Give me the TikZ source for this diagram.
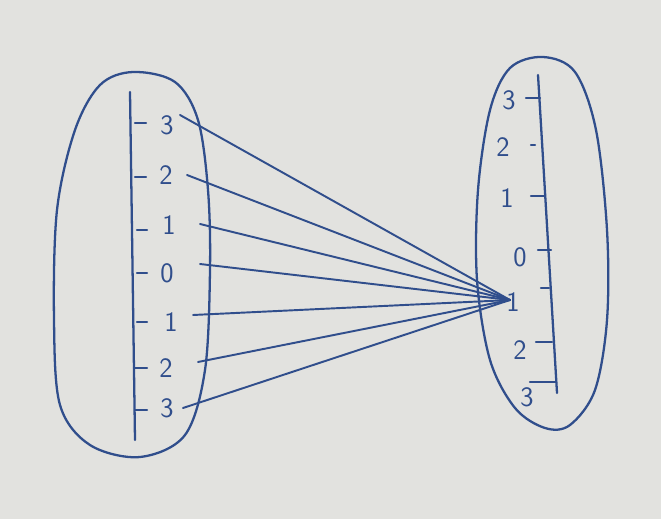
\documentclass[tikz,border=0pt]{standalone}
\usepackage{tikz}
\usetikzlibrary{arrows.meta}
\definecolor{paper}{RGB}{226,226,223}
\definecolor{ink}{RGB}{48,78,140}
\tikzset{
  pen/.style={ink, line width=1.3pt, line cap=round, line join=round},
  num/.style={ink, inner sep=1pt, font=\fontsize{16}{16}\selectfont\sffamily},
}

\begin{document}
\begin{tikzpicture}[x=0.02cm, y=-0.02cm, >=Stealth]

% Sfondo
\fill[paper] (0,0) rectangle (661,519);
\useasboundingbox (0,0) rectangle (661,519);

% Insieme di partenza
\draw[pen] plot[smooth cycle, tension=0.55] coordinates {(133,72) (175,82) (198,120) (208,190)
  (210,270) (205,370) (185,435) (140,457) (90,445) (60,405) (54,320) (57,210) (75,130) (100,85)};
\draw[pen] (130,92) -- (135,440);

% Tacche e numeri (sinistra)
\draw[pen] (135,123) -- (146,123);
\draw[pen] (135,177) -- (146,177);
\draw[pen] (137,230) -- (147,230);
\draw[pen] (137,273) -- (147,273);
\draw[pen] (137,322) -- (147,322);
\draw[pen] (134,368) -- (147,368);
\draw[pen] (135,410) -- (147,410);
\node[num] (l1) at (167,125) {3};
\node[num] (l2) at (166,175) {2};
\node[num] (l3) at (169,225) {1};
\node[num] (l4) at (167,273) {0};
\node[num] (l5) at (171,322) {1};
\node[num] (l6) at (166,368) {2};
\node[num] (l7) at (167,408) {3};

% Insieme di arrivo
\draw[pen] plot[smooth cycle, tension=0.55] coordinates {(543,57) (575,72) (596,130) (607,230)
  (607,320) (595,390) (570,425) (545,428) (515,408) (490,360) (477,280) (478,190) (490,110) (510,68)};
\draw[pen] (538,75) -- (557,393);

% Tacche e numeri (destra)
\draw[pen] (526,98) -- (540,98);
\draw[pen] (531,145) -- (535,145);
\draw[pen] (531,196) -- (544,196);
\draw[pen] (538,250) -- (551,250);
\draw[pen] (541,288) -- (549,288);
\draw[pen] (536,342) -- (552,342);
\draw[pen] (530,382) -- (556,382);
\node[num] (r1) at (509,100) {3};
\node[num] (r2) at (503,147) {2};
\node[num] (r3) at (507,198) {1};
\node[num] (r4) at (520,257) {0};
\node[num] (r5) at (513,302) {1};
\node[num] (r6) at (520,350) {2};
\node[num] (r7) at (527,397) {3};

% Collegamenti
\coordinate (a1) at (180,115);
\coordinate (a2) at (187,175);
\coordinate (a3) at (200,224);
\coordinate (a4) at (200,264);
\coordinate (a5) at (193,315);
\coordinate (a6) at (198,362);
\coordinate (a7) at (183,408);
\coordinate (hub) at (510,300);
\draw[pen, line width=1.1pt] (a1) -- (hub);
\draw[pen, line width=1.1pt] (a2) -- (hub);
\draw[pen, line width=1.1pt] (a3) -- (hub);
\draw[pen, line width=1.1pt] (a4) -- (hub);
\draw[pen, line width=1.1pt] (a5) -- (hub);
\draw[pen, line width=1.1pt] (a6) -- (hub);
\draw[pen, line width=1.1pt] (a7) -- (hub);

\end{tikzpicture}
\end{document}
